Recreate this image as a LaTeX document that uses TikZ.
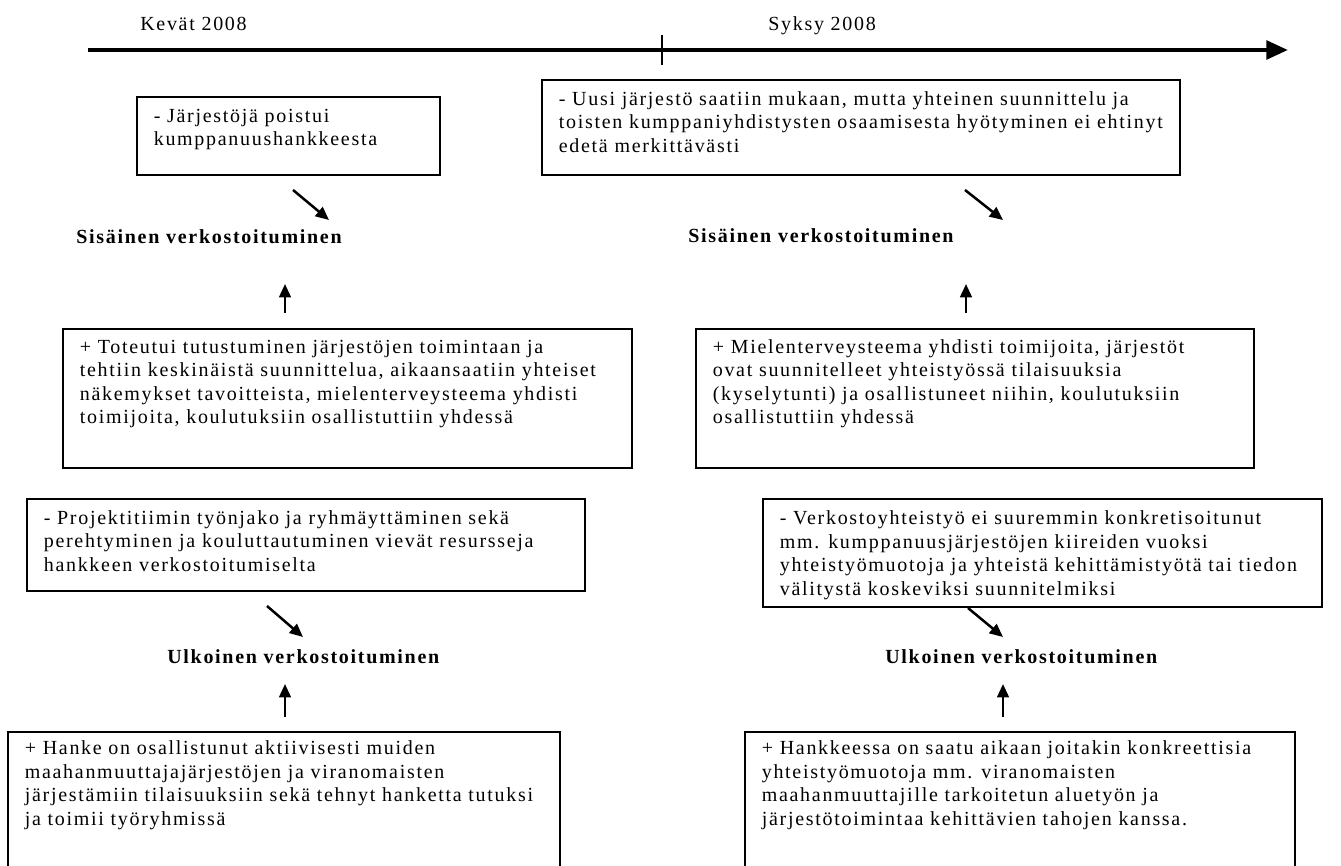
\documentclass[tikz,border=0pt]{standalone}
\usepackage{fontspec}
\setmainfont{Liberation Serif}[LetterSpace=8.5]
\usetikzlibrary{arrows.meta,fit}
\begin{document}
\begin{tikzpicture}[x=0.6pt,y=-0.6pt,
  every node/.style={font=\fontsize{12}{14.1}\selectfont},
  frame/.style={draw, line width=0.75pt, inner sep=0pt},
  txt/.style={anchor=north west, inner sep=0pt, align=left},
  lbl/.style={font=\fontsize{12}{14.1}\selectfont\bfseries, inner sep=0pt},
  period/.style={inner sep=0pt, anchor=base west},
  conn/.style={line width=1.5pt, -{Triangle[length=8pt,width=7pt]}},
  timeline/.style={line width=2.7pt, -{Triangle[length=13pt,width=11pt]}},
]
\useasboundingbox (0,0) rectangle (1341,866);
\clip (0,0) rectangle (1341,866);

% timeline
\coordinate (tl0) at (88,50);
\coordinate (tl1) at (1288,50);
\draw[timeline] (tl0) -- (tl1);
\coordinate (tk0) at (662,35);
\coordinate (tk1) at (662,65);
\draw[line width=0.9pt] (tk0) -- (tk1);
\node[period] (p1) at (140,31) {Kevät 2008};
\node[period] (p2) at (768,31) {Syksy 2008};

% boxes
\node[frame, fit={(137,97) (440,175)}] (b1) {};
\node[frame, fit={(542,80) (1180,175)}] (b2) {};
\node[frame, fit={(63,329) (632,468)}] (b3) {};
\node[frame, fit={(696,329) (1254,468)}] (b4) {};
\node[frame, fit={(27,499) (585,591)}] (b5) {};
\node[frame, fit={(763,499) (1322,607)}] (b6) {};
\node[frame, fit={(8,732) (560,870)}] (b7) {};
\node[frame, fit={(745,732) (1295,870)}] (b8) {};

% texts
\node[txt] (t1) at (153.5,105.5) {\strut- Järjestöjä poistui\\kumppanuushankkeesta};
\node[txt] (t2) at (558.5,88.5) {\strut- Uusi järjestö saatiin mukaan, mutta yhteinen suunnittelu ja\\toisten kumppaniyhdistysten osaamisesta hyötyminen ei ehtinyt\\edetä merkittävästi};
\node[txt] (t3) at (79.5,336.5) {\strut+ Toteutui tutustuminen järjestöjen toimintaan ja\\tehtiin keskinäistä suunnittelua, aikaansaatiin yhteiset\\näkemykset tavoitteista, mielenterveysteema yhdisti\\toimijoita, koulutuksiin osallistuttiin yhdessä};
\node[txt] (t4) at (712.5,336.5) {\strut+ Mielenterveysteema yhdisti toimijoita, järjestöt\\ovat suunnitelleet yhteistyössä tilaisuuksia\\(kyselytunti) ja osallistuneet niihin, koulutuksiin\\osallistuttiin yhdessä};
\node[txt] (t5) at (43.5,507.5) {\strut- Projektitiimin työnjako ja ryhmäyttäminen sekä\\perehtyminen ja kouluttautuminen vievät resursseja\\hankkeen verkostoitumiselta};
\node[txt] (t6) at (779.5,508) {\strut- Verkostoyhteistyö ei suuremmin konkretisoitunut\\mm. kumppanuusjärjestöjen kiireiden vuoksi\\yhteistyömuotoja ja yhteistä kehittämistyötä tai tiedon\\välitystä koskeviksi suunnitelmiksi};
\node[txt] (t7) at (24.5,738) {\strut+ Hanke on osallistunut aktiivisesti muiden\\maahanmuuttajajärjestöjen ja viranomaisten\\järjestämiin tilaisuuksiin sekä tehnyt hanketta tutuksi\\ja toimii työryhmissä};
\node[txt] (t8) at (761.5,738) {\strut+ Hankkeessa on saatu aikaan joitakin konkreettisia\\yhteistyömuotoja mm. viranomaisten\\maahanmuuttajille tarkoitetun aluetyön ja\\järjestötoimintaa kehittävien tahojen kanssa.};

% labels
\node[lbl, anchor=base east] (s1) at (342,244) {Sisäinen verkostoituminen};
\node[lbl, anchor=base west] (s2) at (688,243) {Sisäinen verkostoituminen};
\node[lbl, anchor=base west] (u1) at (167,663) {Ulkoinen verkostoituminen};
\node[lbl, anchor=base west] (u2) at (885,663) {Ulkoinen verkostoituminen};

% connectors
\coordinate (d1s) at (293,190); \coordinate (d1e) at (329,220);
\coordinate (d2s) at (965,190); \coordinate (d2e) at (1003,220);
\coordinate (d3s) at (267,606); \coordinate (d3e) at (303,637);
\coordinate (d4s) at (968,608); \coordinate (d4e) at (1003,637);
\draw[conn] (d1s) -- (d1e);
\draw[conn] (d2s) -- (d2e);
\draw[conn] (d3s) -- (d3e);
\draw[conn] (d4s) -- (d4e);

\coordinate (v1s) at (285,313); \coordinate (v1e) at (285,284);
\coordinate (v2s) at (966,313); \coordinate (v2e) at (966,284);
\coordinate (v3s) at (285,717); \coordinate (v3e) at (285,684);
\coordinate (v4s) at (1003,717); \coordinate (v4e) at (1003,684);
\draw[conn] (v1s) -- (v1e);
\draw[conn] (v2s) -- (v2e);
\draw[conn] (v3s) -- (v3e);
\draw[conn] (v4s) -- (v4e);
\end{tikzpicture}
\end{document}
